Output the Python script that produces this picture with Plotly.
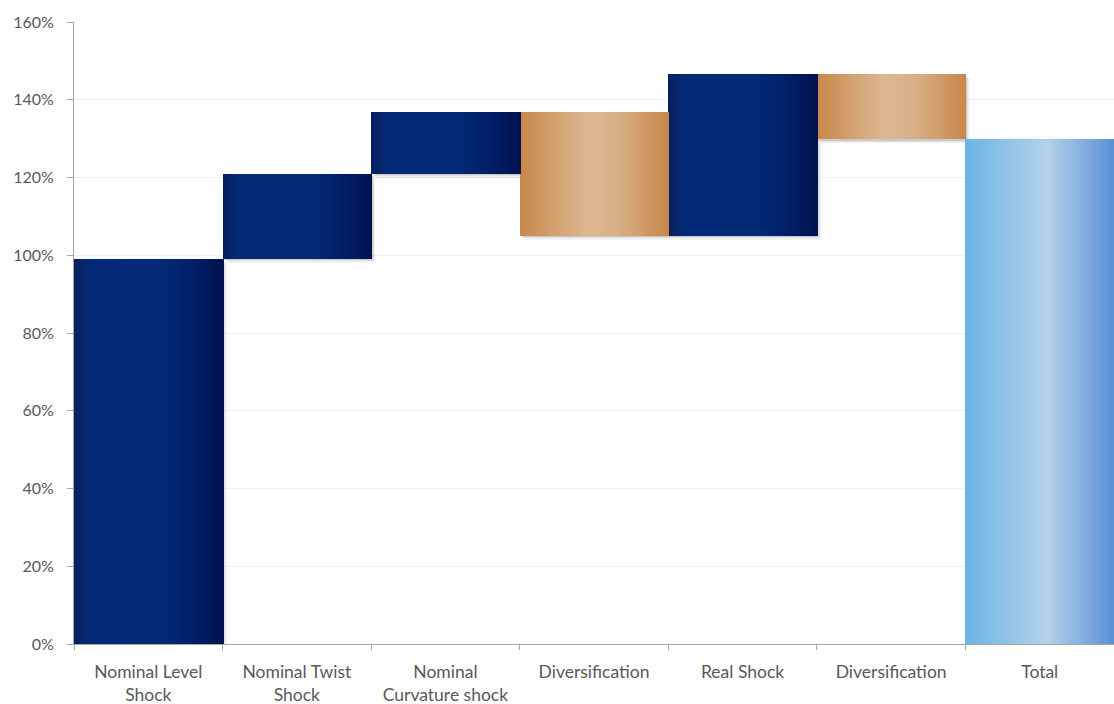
import plotly.graph_objects as go

# ---- data ----
tick_labels = ["Nominal Level<br>Shock", "Nominal Twist<br>Shock", "Nominal<br>Curvature shock",
               "Diversification", "Real Shock", "Diversification", "Total"]
steps = [0.99, 0.22, 0.158, -0.318, 0.415, -0.167]   # changes
kinds = ["shock", "shock", "shock", "div", "shock", "div", "total"]
y_ticks = [0, 0.2, 0.4, 0.6, 0.8, 1.0, 1.2, 1.4, 1.6]

# build waterfall bases / lengths
bases, lengths = [], []
run = 0.0
for s in steps:
    if s >= 0:
        bases.append(run); lengths.append(s)
    else:
        bases.append(run + s); lengths.append(-s)
    run += s
bases.append(0.0); lengths.append(run)
xs = list(range(len(tick_labels)))

# ---- gradient styles ----
stops = {
    "shock": [(0, "#0a1f5e"), (0.12, "#032a78"), (0.6, "#022a77"), (0.85, "#011c62"), (1, "#00124e")],
    "div":   [(0, "#c8874a"), (0.45, "#dcb892"), (0.65, "#d8b088"), (1, "#c8874a")],
    "total": [(0, "#6cb4e4"), (0.55, "#b3d2ea"), (1, "#5b8fd5")],
}

def hex2rgb(h):
    h = h.lstrip("#")
    return tuple(int(h[i:i + 2], 16) for i in (0, 2, 4))

def grad(kind, t):
    st = stops[kind]
    for (p0, c0), (p1, c1) in zip(st[:-1], st[1:]):
        if p0 <= t <= p1:
            f = 0 if p1 == p0 else (t - p0) / (p1 - p0)
            a, b = hex2rgb(c0), hex2rgb(c1)
            return "rgb(%d,%d,%d)" % tuple(round(a[i] + (b[i] - a[i]) * f) for i in range(3))
    return st[-1][1]

fig = go.Figure()

# soft drop shadow (style only: slight offset right/down)
for dx, dy, alpha in [(0.028, 0.010, 0.05), (0.018, 0.006, 0.07), (0.010, 0.003, 0.09)]:
    fig.add_trace(go.Bar(
        x=xs, y=lengths, base=[b - dy for b in bases],
        width=[1.0] * len(xs), offset=[-0.5 + dx] * len(xs),
        marker=dict(color="rgba(0,0,0,%.2f)" % alpha, line=dict(width=0)),
        hoverinfo="skip", showlegend=False,
    ))

N = 48
for k in range(N):
    t = (k + 0.5) / N
    fig.add_trace(go.Bar(
        x=xs, y=lengths, base=bases,
        width=[1.0 / N * 1.3] * len(xs),
        offset=[-0.5 + k / N] * len(xs),
        marker=dict(color=[grad(kd, t) for kd in kinds], line=dict(width=0)),
        hoverinfo="skip", showlegend=False,
    ))

font = "Lato"
fig.update_layout(
    width=1114, height=704,
    margin=dict(l=74, r=0, t=22, b=60),
    paper_bgcolor="white", plot_bgcolor="white",
    barmode="overlay", bargap=0,
    font=dict(family=font, size=17, color="#595959"),
    xaxis=dict(
        range=[-0.5, 6.5], tickmode="array", tickvals=xs, ticktext=tick_labels,
        ticks="", showline=True, linecolor="#a6a6a6", linewidth=1,
        showgrid=False, zeroline=False, fixedrange=True, automargin=False,
        ticklabelstandoff=12, tickfont=dict(size=17.5),
        minor=dict(tickmode="array", tickvals=[i - 0.5 for i in xs],
                   ticks="outside", ticklen=5, tickcolor="#a6a6a6", showgrid=False),
    ),
    yaxis=dict(
        range=[0, 1.6], tickmode="array", tickvals=y_ticks, tickformat=".0%",
        showline=True, linecolor="#a6a6a6", linewidth=1,
        ticks="outside", ticklen=6, tickcolor="#a6a6a6",
        showgrid=True, gridcolor="#f0f0f0", zeroline=False,
        ticklabelstandoff=10, automargin=False,
        tickfont=dict(size=16),
    ),
)
fig.write_html("out.html")
